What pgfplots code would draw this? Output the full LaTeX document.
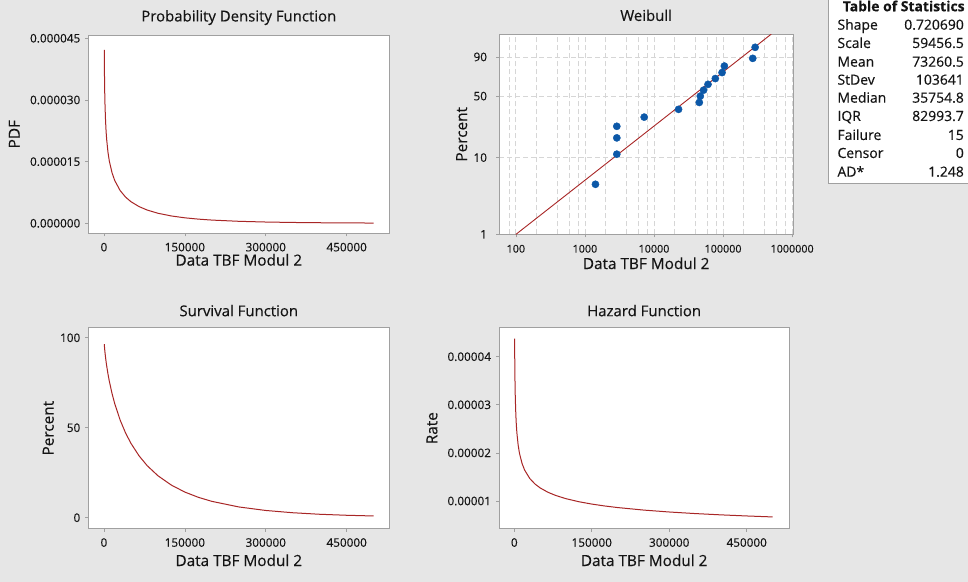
\documentclass[border=0pt]{standalone}
\usepackage{fontspec}
\setmainfont{Open Sans}[FakeBold=0.3]
\usepackage{pgfplots}
\pgfplotsset{compat=1.18}
\usepackage{pgfplotstable}

\definecolor{bg}{RGB}{230,230,230}
\definecolor{framegray}{RGB}{160,160,160}
\definecolor{gridgray}{RGB}{214,214,214}
\definecolor{curvered}{RGB}{168,38,38}
\definecolor{dotblue}{RGB}{12,88,168}
\definecolor{txt}{RGB}{20,20,20}

\pgfplotstableread{
x f
600 4.2191e-5
1000 3.5994e-5
1500 3.1572e-5
2000 2.8664e-5
3000 2.4853e-5
4000 2.2328e-5
5000 2.0463e-5
7500 1.7260e-5
10000 1.5122e-5
15000 1.2293e-5
20000 1.0415e-5
30000 7.9663e-6
40000 6.3862e-6
50000 5.2632e-6
65000 4.0705e-6
80000 3.2336e-6
100000 2.4477e-6
125000 1.7843e-6
150000 1.3340e-6
175000 1.0162e-6
200000 7.857e-7
250000 4.860e-7
300000 3.111e-7
350000 2.043e-7
400000 1.369e-7
450000 9.35e-8
500000 6.46e-8
}\pdftable

\pgfplotstableread{
x s
600 96.42
1000 94.87
1500 93.19
2000 91.69
3000 89.03
4000 86.68
5000 84.54
7500 79.86
10000 75.82
15000 69.03
20000 63.38
30000 54.29
40000 47.16
50000 41.37
65000 34.43
80000 28.98
100000 23.35
125000 18.12
150000 14.25
175000 11.34
200000 9.10
250000 5.99
300000 4.03
350000 2.77
400000 1.92
450000 1.36
500000 0.97
}\survtable

\pgfplotstableread{
x h
600 4.3757e-5
1000 3.7940e-5
1500 3.3878e-5
2000 3.1262e-5
3000 2.7915e-5
4000 2.5759e-5
5000 2.4204e-5
7500 2.1613e-5
10000 1.9943e-5
15000 1.7808e-5
20000 1.6433e-5
30000 1.4673e-5
40000 1.3540e-5
50000 1.2722e-5
65000 1.1823e-5
80000 1.1157e-5
100000 1.0483e-5
125000 9.8493e-6
150000 9.3604e-6
175000 8.9659e-6
200000 8.6378e-6
250000 8.1159e-6
300000 7.7130e-6
350000 7.3877e-6
400000 7.1173e-6
450000 6.8870e-6
500000 6.687e-6
}\haztable

% Weibull probability plot: x = data, y = ln(-ln(1-p)), p = Bernard median rank
\pgfplotstableread{
x y
1420 -3.06790
2894 -2.14582
2894 -1.64627
2894 -1.29179
7211 -1.01026
22680 -0.77165
45290 -0.56029
46830 -0.36651
52250 -0.18361
60530 -0.00612
77250 0.17126
96720 0.35490
104450 0.55453
268900 0.79018
291300 1.12853
}\weibpts

% fitted Weibull line (shape 0.720690, scale 59456.5)
\pgfplotstableread{
x y
100 -4.60364
500000 1.53461
}\weibfit

\pgfplotsset{
  mtb/.style={
    scale only axis,
    axis background/.style={fill=white},
    axis line style={draw=framegray, line width=0.8bp},
    every tick/.style={draw=framegray, line width=0.7bp},
    tick align=outside,
    major tick length=3bp,
    minor tick length=0bp,
    xtick pos=bottom, ytick pos=left,
    tick label style={font=\fontsize{11.8}{13}\selectfont, text=txt},
    xticklabel style={yshift=-3bp},
    yticklabel style={xshift=-1.5bp},
    every axis title/.style={font=\fontsize{15}{17}\selectfont, text=txt, anchor=center},
    every axis x label/.style={font=\fontsize{15.4}{17}\selectfont, text=txt, anchor=center},
    every axis y label/.style={font=\fontsize{15.4}{17}\selectfont, text=txt, anchor=center, rotate=90},
    scaled x ticks=false, scaled y ticks=false,
    clip=true,
  },
  curve/.style={color=curvered, line width=1bp, no markers},
}

\begin{document}
\begin{tikzpicture}
\clip (0bp,0bp) rectangle (968bp,582bp);
\fill[bg] (0bp,0bp) rectangle (968bp,582bp);

% ---------- PDF ----------
\begin{axis}[mtb, at={(88.3bp,348.7bp)}, anchor=south west,
  width=301bp, height=198.3bp,
  xmin=-29000, xmax=529000, ymin=-0.00000243, ymax=0.0000458,
  xtick={0,150000,300000,450000}, xticklabels={0,150000,300000,450000},
  ytick={0,0.000015,0.00003,0.000045},
  yticklabels={0.000000,0.000015,0.000030,0.000045},
  title={Probability Density Function},
  title style={at={(axis description cs:0.5,1.088)}},
  xlabel={Data TBF Modul 2},
  xlabel style={at={(axis description cs:0.5,-0.134)}},
  ylabel={PDF},
  ylabel style={at={(axis description cs:-0.246,0.5)}},
]
\addplot[curve] table[x=x,y=f] {\pdftable};
\end{axis}

% ---------- Weibull ----------
\begin{axis}[mtb, at={(499bp,347.7bp)}, anchor=south west,
  width=294.3bp, height=200bp,
  xmode=log,
  xmin=57, xmax=1040000, ymin=-4.60015, ymax=1.52718,
  xtick={100,1000,10000,100000,1000000},
  xticklabels={100,1000,10000,100000,1000000},
  minor xtick={80,200,400,600,800,2000,4000,6000,8000,20000,40000,60000,80000,200000,400000,600000,800000},
  ytick={-4.60015,-2.25037,-0.36651,0.83403},
  yticklabels={1,10,50,90},
  xticklabel style={font=\fontsize{10.8}{12}\selectfont, yshift=-1bp},
  yticklabel style={xshift=-4bp},
  xmajorgrids, xminorgrids, ymajorgrids,
  major grid style={draw=gridgray, dash pattern=on 5bp off 3bp, line width=0.8bp},
  minor grid style={draw=gridgray, dash pattern=on 5bp off 3bp, line width=0.8bp},
  title={Weibull},
  title style={at={(axis description cs:0.5,1.095)}},
  xlabel={Data TBF Modul 2},
  xlabel style={at={(axis description cs:0.5,-0.145)}},
  ylabel={Percent},
  ylabel style={at={(axis description cs:-0.127,0.5)}},
]
\addplot[color=curvered, line width=0.9bp, no markers] table[x=x,y=y] {\weibfit};
\addplot[only marks, mark=*, mark size=3.6bp, mark options={fill=dotblue, draw=dotblue}] table[x=x,y=y] {\weibpts};
\end{axis}

% ---------- Survival ----------
\begin{axis}[mtb, at={(88.3bp,53.3bp)}, anchor=south west,
  width=301bp, height=201bp,
  xmin=-29000, xmax=529000, ymin=-6.1, ymax=105.6,
  xtick={0,150000,300000,450000}, xticklabels={0,150000,300000,450000},
  ytick={0,50,100}, yticklabels={0,50,100},
  title={Survival Function},
  title style={at={(axis description cs:0.5,1.085)}},
  xlabel={Data TBF Modul 2},
  xlabel style={at={(axis description cs:0.5,-0.157)}},
  ylabel={Percent},
  ylabel style={at={(axis description cs:-0.133,0.5)}},
]
\addplot[curve] table[x=x,y=s] {\survtable};
\end{axis}

% ---------- Hazard ----------
\begin{axis}[mtb, at={(499bp,53.3bp)}, anchor=south west,
  width=290.3bp, height=201bp,
  xmin=-29600, xmax=532500, ymin=0.00000424, ymax=0.00004603,
  xtick={0,150000,300000,450000}, xticklabels={0,150000,300000,450000},
  ytick={0.00001,0.00002,0.00003,0.00004},
  yticklabels={0.00001,0.00002,0.00003,0.00004},
  title={Hazard Function},
  title style={at={(axis description cs:0.5,1.085)}},
  xlabel={Data TBF Modul 2},
  xlabel style={at={(axis description cs:0.5,-0.157)}},
  ylabel={Rate},
  ylabel style={at={(axis description cs:-0.231,0.5)}},
]
\addplot[curve] table[x=x,y=h] {\haztable};
\end{axis}

% ---------- Table of Statistics ----------
\draw[fill=white, draw=framegray, line width=0.8bp] (828.3bp,398.7bp) rectangle (980bp,600bp);
\node[anchor=center, font=\fontsize{14}{16}\bfseries\selectfont, text=txt] at (903.7bp,576bp) {Table of Statistics};
\begin{scope}[every node/.style={font=\fontsize{14}{16}\selectfont, text=txt, inner sep=0pt}]
\foreach \yy/\lab/\val in {555/Shape/0.720690, 536.7/Scale/59456.5, 518/Mean/73260.5, 500/StDev/103641, 482/Median/35754.8, 463.7/IQR/82993.7, 444.7/Failure/15, 426.7/Censor/0, 408/AD*/1.248}{
  \node[anchor=mid west] at (837.3bp,\yy bp) {\lab};
  \node[anchor=mid east] at (964bp,\yy bp) {\val};
}
\end{scope}
\end{tikzpicture}
\end{document}
